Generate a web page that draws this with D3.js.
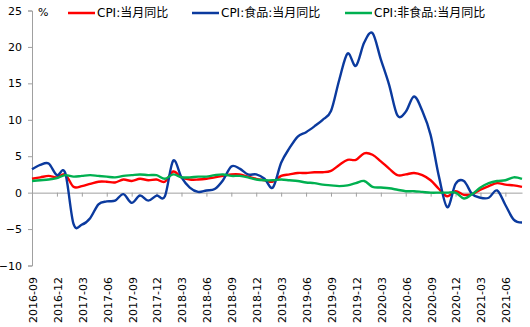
<!DOCTYPE html>
<html><head><meta charset="utf-8">
<script src="https://cdn.jsdelivr.net/npm/d3@7"></script>
<style>body{margin:0;background:#fff}svg{display:block}</style>
</head><body>
<svg id="c" width="530" height="327"></svg>
<script>
// monthly, 2016-09 .. 2021-08
const startYear = 2016, startMonth = 9, nMonths = 60;
const months = d3.range(nMonths).map(i => {
  const m0 = startMonth - 1 + i;
  const y = startYear + Math.floor(m0 / 12), m = (m0 % 12) + 1;
  return y + "-" + String(m).padStart(2, "0");
});
const cpi = [1.9,2.1,2.3,2.1, 2.5,0.8,0.9,1.2,1.5,1.5,1.4,1.8,1.6,1.9,1.7,1.8,
  1.5,2.9,2.1,1.8,1.8,1.9,2.1,2.3,2.5,2.5,2.2,1.9,
  1.7,1.5,2.3,2.5,2.7,2.7,2.8,2.8,3.0,3.8,4.5,4.5,
  5.4,5.2,4.3,3.3,2.4,2.5,2.7,2.4,1.7,0.5,-0.5,0.2,
  -0.3,-0.2,0.4,0.9,1.3,1.1,1.0,0.8];
const food = [3.2,3.8,4.0,2.4, 2.7,-4.3,-4.4,-3.5,-1.6,-1.2,-1.1,-0.2,-1.4,-0.4,-1.1,-0.4,
  -0.5,4.4,2.1,0.7,0.1,0.3,0.5,1.7,3.6,3.3,2.5,2.5,
  1.9,0.7,4.1,6.1,7.7,8.3,9.1,10.0,11.2,15.5,19.1,17.4,
  20.6,21.9,18.3,14.8,10.6,11.1,13.2,11.2,7.9,2.2,-2.0,1.2,
  1.6,-0.2,-0.7,-0.7,0.3,-1.7,-3.7,-4.1];
const nonFood = [1.6,1.7,1.8,2.0, 2.4,2.2,2.3,2.4,2.3,2.2,2.1,2.3,2.4,2.5,2.4,2.4,
  1.9,2.5,2.1,2.1,2.2,2.2,2.4,2.5,2.3,2.3,2.1,1.8,
  1.7,1.7,1.8,1.7,1.6,1.4,1.3,1.1,1.0,0.9,1.0,1.3,
  1.6,0.8,0.7,0.6,0.4,0.2,0.2,0.1,0.0,0.0,0.0,0.0,
  -0.8,-0.2,0.7,1.3,1.6,1.7,2.1,1.9];
const seriesNames = ["CPI:当月同比","CPI:食品:当月同比","CPI:非食品:当月同比"];
const seriesColors = ["#ff0000","#0b3a9e","#00b050"];
const yTicks = [-10,-5,0,5,10,15,20,25];
const labelEvery = 3;

const svg = d3.select("#c");
const x = d3.scaleLinear().domain([0, nMonths - 1]).range([32, 522]);
const y = d3.scaleLinear().domain([-10, 25]).range([265.5, 10.5]);
const font = "'DejaVu Sans','Noto Sans CJK SC',sans-serif";

// y axis
const ya = svg.append("g").attr("transform","translate(32,0)")
  .call(d3.axisLeft(y).tickValues(yTicks).tickSize(4).tickPadding(6).tickFormat(d3.format("d")));
ya.selectAll("path,line").attr("stroke","#a0a0a0");
ya.selectAll("text").attr("font-family",font).attr("font-size",11).attr("fill","#000");

// x axis at zero
const tickIdx = d3.range(0, nMonths, labelEvery);
const xa = svg.append("g").attr("transform",`translate(0,${y(0)})`)
  .call(d3.axisBottom(x).tickValues(tickIdx).tickSize(4).tickSizeOuter(0).tickFormat(""));
xa.selectAll("path,line").attr("stroke","#a0a0a0");

// x labels at bottom
svg.append("g").selectAll("text").data(tickIdx).join("text")
  .attr("transform", d => `translate(${x(d)+1},277) rotate(-90)`)
  .attr("text-anchor","end").attr("dy","0.35em")
  .attr("font-family",font).attr("font-size",11).attr("fill","#000")
  .text(d => months[d]);

// lines
const line = d3.line().x((d,i)=>x(i)).y(d=>y(d)).curve(d3.curveCatmullRom.alpha(0));
[cpi, food, nonFood].forEach((s, k) => {
  svg.append("path").datum(s).attr("d", line).attr("fill","none")
    .attr("stroke", seriesColors[k]).attr("stroke-width",2.4).attr("stroke-linejoin","round");
});

// % label
svg.append("text").attr("x",38).attr("y",12).attr("dy","0.35em")
  .attr("font-family",font).attr("font-size",11).text("%");

// legend
const legX = [68,192,345];
seriesNames.forEach((n,k)=>{
  const g = svg.append("g").attr("transform",`translate(${legX[k]},13)`);
  g.append("line").attr("x1",0).attr("x2",27).attr("stroke",seriesColors[k]).attr("stroke-width",2.5);
  g.append("text").attr("x",29).attr("dy","0.35em").attr("font-family",font)
    .attr("font-size",12).attr("fill","#000").text(n);
});
</script>
</body></html>
